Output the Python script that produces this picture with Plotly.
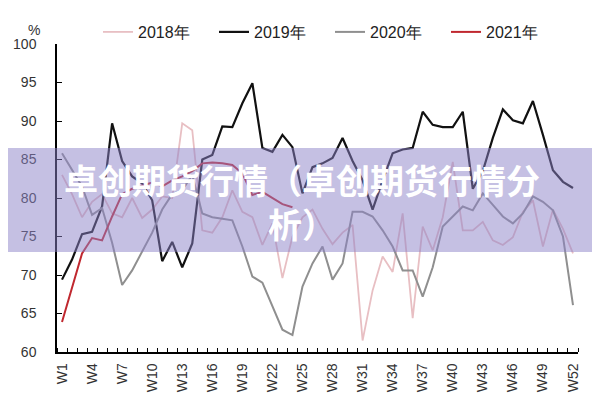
import plotly.graph_objects as go

weeks = list(range(1, 53))
week_labels = ["W%d" % w for w in weeks]
tick_weeks = [1, 4, 7, 10, 13, 16, 19, 22, 25, 28, 31, 34, 37, 40, 43, 46, 49, 52]

y2018 = [83.0, 80.5, 77.5, 79.5, 80.5, 78.0, 77.5, 80.0, 77.4, 78.5,
         80.2, 80.0, 89.7, 88.8, 75.8, 75.5, 77.5, 81.0, 78.2, 77.5,
         73.9, 76.7, 69.6, 75.0, 77.5, 78.5, 76.0, 74.0, 75.5, 76.5,
         61.5, 68.0, 72.4, 70.4, 78.0, 64.4, 76.3, 73.2, 77.5, 84.7,
         75.8, 75.8, 76.9, 74.5, 73.9, 74.9, 78.2, 79.7, 73.7, 78.5,
         76.0, 72.8]
y2019 = [69.4, 72.0, 75.3, 75.6, 78.9, 89.7, 84.8, 82.8, 81.9, 79.7,
         71.8, 74.3, 71.0, 74.1, 85.0, 85.6, 89.3, 89.2, 92.3, 94.9,
         86.5, 86.0, 88.2, 86.6, 80.6, 84.0, 84.5, 85.2, 87.8, 84.8,
         82.3, 78.5, 82.3, 85.8, 86.3, 86.5, 91.2, 89.5, 89.2, 89.2,
         91.2, 81.2, 83.5, 87.8, 91.5, 90.1, 89.7, 92.6, 88.2, 83.6,
         82.1, 81.3]
y2020 = [85.8, 83.6, 81.5, 77.8, 78.7, 74.2, 68.7, 70.6, 73.0, 75.5,
         78.5, 80.5, 81.0, 83.0, 78.0, 77.5, 77.3, 77.1, 73.7, 69.8,
         69.0, 65.9, 62.9, 62.2, 68.5, 71.5, 73.7, 69.4, 71.5, 78.2,
         78.2, 77.6, 75.8, 73.7, 70.6, 70.6, 67.2, 71.0, 76.3, 77.6,
         78.9, 78.4, 80.6, 79.1, 77.6, 76.7, 78.0, 80.2, 79.5, 78.4,
         75.0, 66.1]
y2021 = [63.9, 68.5, 72.8, 74.8, 74.5, 77.6, 80.5, 81.2, 81.6, 82.0,
         81.5, 82.3, 82.8, 83.5, 84.5, 84.6, 84.5, 84.3, 83.2, 80.4,
         80.8, 80.0, 79.2, 78.8]

series = [
    ("2018年", y2018, "#e8bfc3", 1.8),
    ("2019年", y2019, "#111111", 2.2),
    ("2020年", y2020, "#8f8f8f", 2.0),
    ("2021年", y2021, "#c0282f", 2.0),
]

fig = go.Figure()
for name, vals, color, w in series:
    fig.add_trace(go.Scatter(
        x=weeks[:len(vals)], y=vals, mode="lines", name=name,
        line=dict(color=color, width=w),
    ))

# page body has an 8px margin; figure placed at (8, 8) on screen
OFF = 8
# plot area in screen pixels
L, R, T, B = 57, 578, 44, 352
W, H = 600 - OFF, 400 - OFF
def px(x):
    return (x - L) / (R - L)
def py(y):
    return (B - y) / (B - T)

fig.update_layout(
    width=W, height=H,
    margin=dict(l=L - OFF, r=W - (R - OFF), t=T - OFF, b=H - (B - OFF), autoexpand=False),
    paper_bgcolor="white", plot_bgcolor="white",
    font=dict(family="Liberation Sans, Arial, sans-serif", size=14, color="#333333"),
    showlegend=True,
    legend=dict(orientation="h", x=px(98), xanchor="left", y=py(32), yanchor="middle",
                font=dict(size=16, color="#222222"), bgcolor="rgba(0,0,0,0)",
                entrywidth=71, entrywidthmode="pixels", tracegroupgap=0),
    xaxis=dict(
        range=[0.5, 52.5], tickmode="array", tickvals=tick_weeks,
        ticktext=["W%d" % w for w in tick_weeks], tickangle=-90,
        showline=True, linecolor="black", linewidth=1.5,
        ticks="", showgrid=False, zeroline=False, automargin=False,
        ticklabelstandoff=4,
        minor=dict(tickmode="linear", tick0=0.5, dtick=1, ticks="inside",
                   ticklen=4, tickcolor="black", tickwidth=1, showgrid=False),
        tickfont=dict(size=14, color="#333333"),
    ),
    yaxis=dict(
        range=[60, 100], dtick=5, showline=True, linecolor="black", linewidth=1.5,
        ticks="inside", ticklen=5, tickcolor="black", showgrid=False, zeroline=False,
        automargin=False, ticklabelstandoff=16,
        tickfont=dict(size=14, color="#333333"),
    ),
    shapes=[dict(type="rect", xref="paper", yref="paper",
                 x0=px(-20), x1=px(620), y0=py(252), y1=py(148),
                 fillcolor="rgba(140,130,200,0.5)", line=dict(width=0), layer="above")],
    annotations=[
        dict(text="%", xref="paper", yref="paper", x=px(26), y=py(20),
             showarrow=False, font=dict(size=14, color="#333333")),
        dict(text="<b>卓创期货行情（卓创期货行情分<br>析）</b>", xref="paper", yref="paper",
             x=px(302), y=py(201), showarrow=False, align="center",
             font=dict(family="Noto Sans CJK SC", size=34, color="white")),
    ],
)

fig.write_html("out.html")
